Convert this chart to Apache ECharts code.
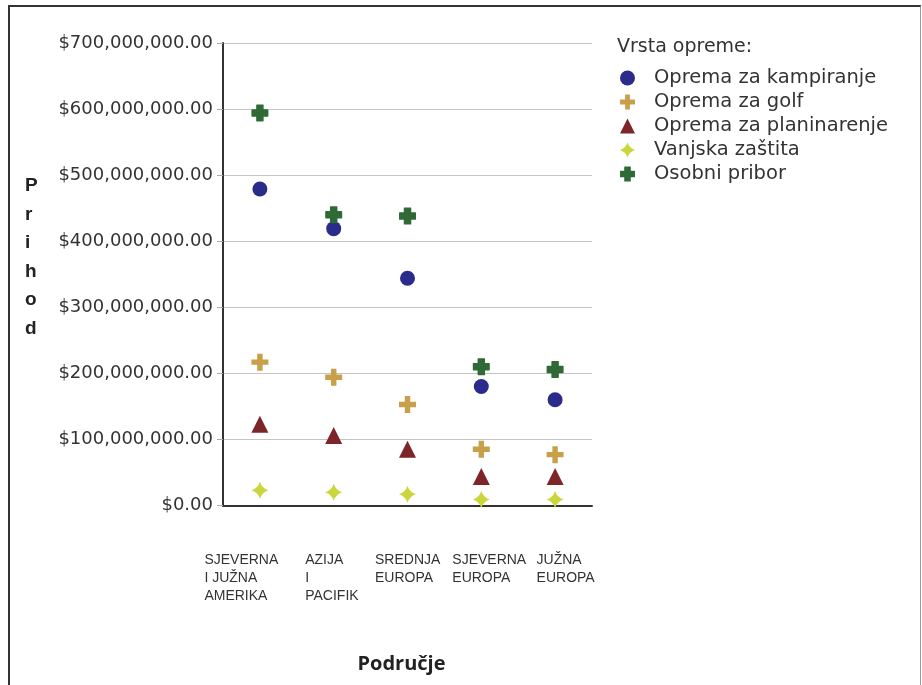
<!DOCTYPE html>
<html>
<head>
<meta charset="utf-8">
<script src="https://cdn.jsdelivr.net/npm/echarts@6/dist/echarts.min.js"></script>
<style>
html,body{margin:0;padding:0;background:#fff;}
#frame{position:absolute;left:8px;top:5px;width:910px;height:700px;border-left:2px solid #333;border-top:2px solid #333;border-right:1px solid #999;}
#chart{position:absolute;left:0;top:0;width:922px;height:685px;}
</style>
</head>
<body>
<div id="frame"></div>
<div id="chart"></div>
<script>
const categories = ['SJEVERNA\nI JUŽNA\nAMERIKA', 'AZIJA\nI\nPACIFIK', 'SREDNJA\nEUROPA', 'SJEVERNA\nEUROPA', 'JUŽNA\nEUROPA'];
const seriesNames = ['Oprema za kampiranje', 'Oprema za golf', 'Oprema za planinarenje', 'Vanjska zaštita', 'Osobni pribor'];
const kampiranje = [479e6, 419e6, 344e6, 180e6, 160e6];
const golf = [217e6, 194e6, 153e6, 85e6, 77e6];
const planinarenje = [123e6, 106e6, 85e6, 44e6, 44e6];
const zastita = [23e6, 20e6, 17e6, 9e6, 9e6];
const pribor = [594e6, 440e6, 438e6, 210e6, 206e6];
const yTicks = [0, 1e8, 2e8, 3e8, 4e8, 5e8, 6e8, 7e8];

const colors = ['#2b2b8c', '#c8a04a', '#7e2529', '#c9d63c', '#2f6a36'];
const symbols = [
  'circle',
  'path://M34,0 H66 V34 H100 V66 H66 V100 H34 V66 H0 V34 H34 Z',
  'triangle',
  'path://M50,0 Q62,38 100,50 Q62,62 50,100 Q38,62 0,50 Q38,38 50,0 Z',
  'path://M30,0 H70 Q72,0 72,4 V28 H96 Q100,28 100,32 V68 Q100,72 96,72 H72 V96 Q72,100 68,100 H32 Q28,100 28,96 V72 H4 Q0,72 0,68 V32 Q0,28 4,28 H28 V4 Q28,0 32,0 Z'
];
const sizes = [15, 17, 17, 17, 17];
const dataSets = [kampiranje, golf, planinarenje, zastita, pribor];

// per-category rich label boxes (left-aligned lines)
const labelRich = {
  r0: {width: 77, padding: [0, 34, 0, 0]},
  r1: {width: 57, padding: [0, 0, 0, 0]},
  r2: {width: 65, padding: [0, 0, 0, 0]},
  r3: {width: 70, padding: [0, 0, 0, 12]},
  r4: {width: 71, padding: [0, 0, 0, 34]}
};
Object.keys(labelRich).forEach(k => Object.assign(labelRich[k], {
  align: 'left', fontSize: 14, lineHeight: 18, color: '#333', fontFamily: 'Liberation Sans'
}));

function money(v) {
  return '$' + v.toLocaleString('en-US', {minimumFractionDigits: 2, maximumFractionDigits: 2});
}

const chart = echarts.init(document.getElementById('chart'), null, {renderer: 'canvas'});
chart.setOption({
  animation: false,
  backgroundColor: 'transparent',
  grid: {left: 223, right: 330, top: 43, bottom: 179.5, containLabel: false},
  xAxis: {
    type: 'category',
    data: categories,
    boundaryGap: true,
    axisLine: {lineStyle: {color: '#333', width: 2}},
    axisTick: {show: false},
    axisLabel: {
      margin: 46,
      interval: 0,
      formatter: function (val, idx) {
        return val.split('\n').map(l => '{r' + idx + '|' + l + '}').join('\n');
      },
      rich: labelRich
    },
    name: 'Područje',
    nameLocation: 'middle',
    nameGap: 149,
    nameTextStyle: {fontSize: 20, fontWeight: 'bold', color: '#222', fontFamily: 'Open Sans', padding: [0, 0, 0, -12]}
  },
  yAxis: {
    type: 'value',
    min: yTicks[0],
    max: yTicks[yTicks.length - 1],
    interval: 1e8,
    axisLine: {show: true, lineStyle: {color: '#333', width: 2}},
    axisTick: {show: true, length: 6, lineStyle: {color: '#aaa'}},
    splitLine: {lineStyle: {color: '#c4c4c4', width: 1}},
    axisLabel: {
      margin: 10,
      fontSize: 18,
      color: '#333',
      fontFamily: 'DejaVu Sans',
      formatter: money
    }
  },
  legend: {
    orient: 'vertical',
    left: 615,
    top: 63,
    itemWidth: 15,
    itemHeight: 15,
    itemGap: 4,
    icon: 'circle',
    data: seriesNames.map((n, i) => ({name: n, icon: symbols[i]})),
    textStyle: {fontSize: 19.5, color: '#333', fontFamily: 'DejaVu Sans', padding: [0, 0, 0, 14], lineHeight: 19}
  },
  graphic: [
    {type: 'text', left: 617, top: 38, style: {text: 'Vrsta opreme:', fontSize: 19, fill: '#333', fontFamily: 'DejaVu Sans'}},
    {type: 'text', left: 25, top: 172, style: {text: 'P\nr\ni\nh\no\nd', fontSize: 19, lineHeight: 28.5, fontWeight: 'bold', fill: '#222', fontFamily: 'Liberation Sans', align: 'center'}}
  ],
  series: seriesNames.map((n, i) => ({
    name: n,
    type: 'scatter',
    data: dataSets[i],
    symbol: symbols[i],
    symbolSize: sizes[i],
    itemStyle: {color: colors[i], opacity: 1}
  }))
});
</script>
</body>
</html>
